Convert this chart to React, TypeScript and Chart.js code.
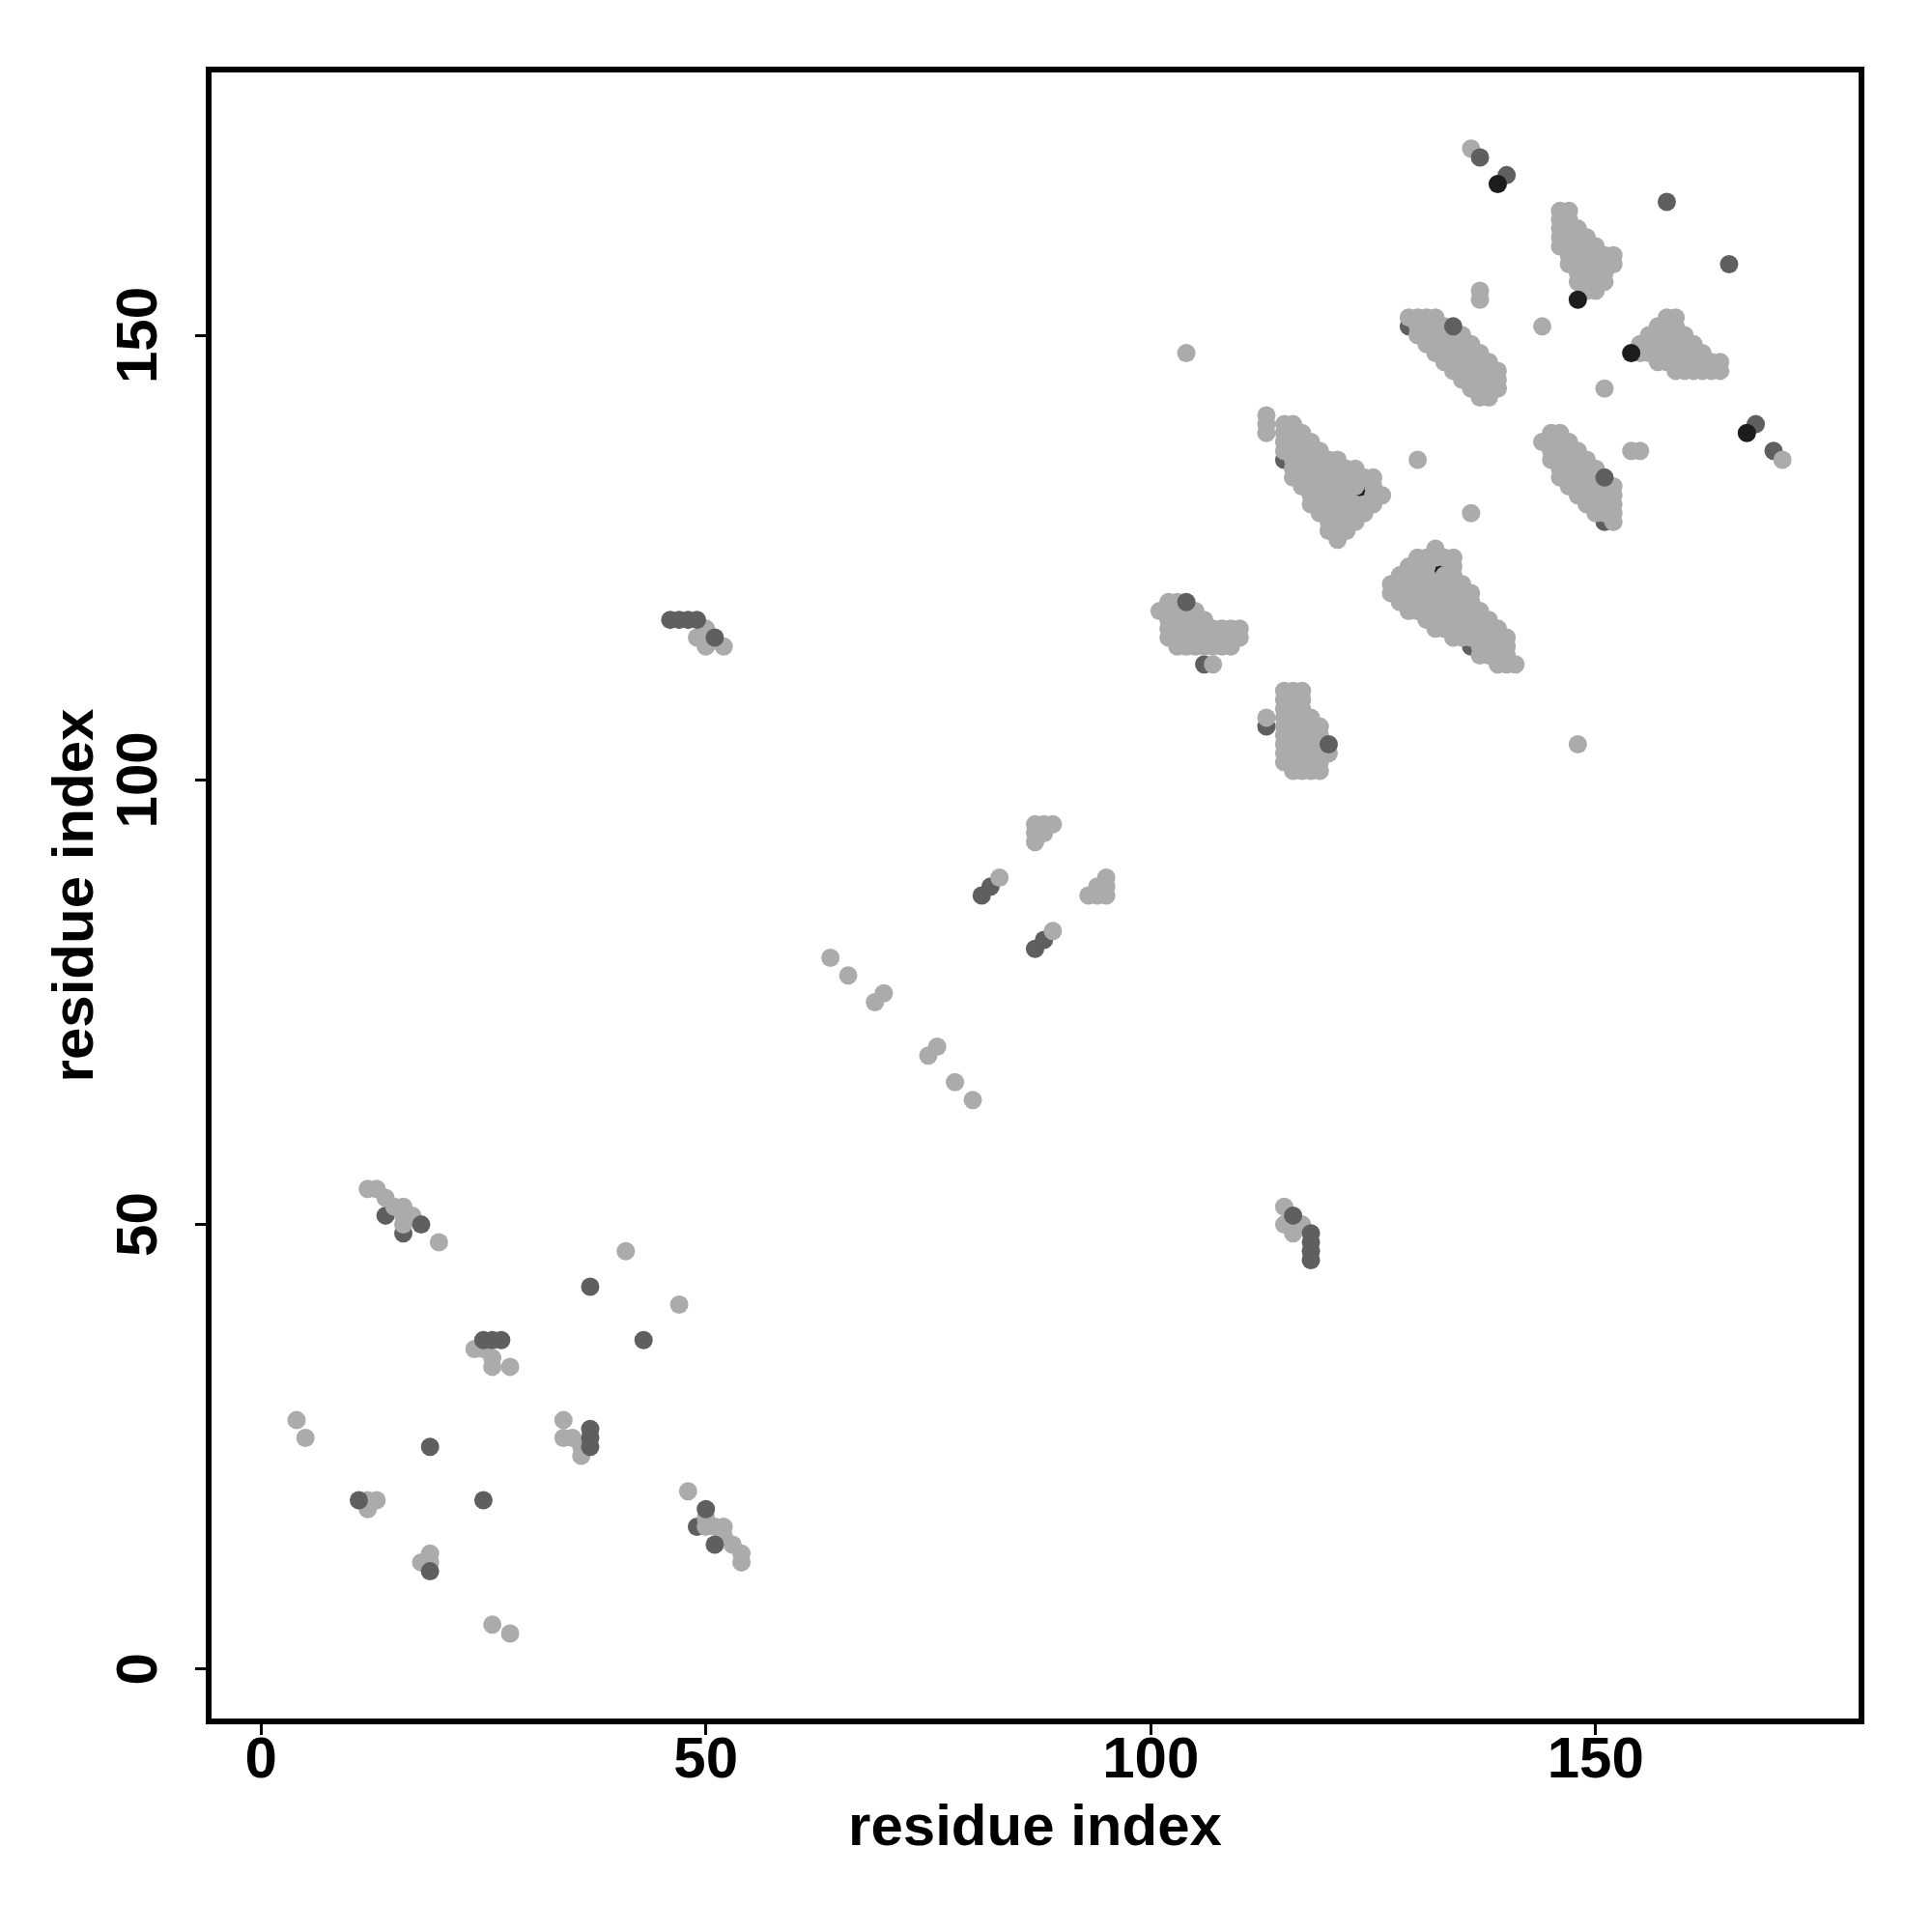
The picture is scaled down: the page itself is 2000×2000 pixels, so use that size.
import React, { useEffect, useRef } from "react";
import { Chart, registerables } from "chart.js";

Chart.register(...registerables);

type P = [number, number];
type Run = [number, number, number]; // [y, xFrom, xTo]

const xTickValues = [0, 50, 100, 150];
const yTickValues = [0, 50, 100, 150];
const axisMin = -5.88;
const axisMax = 179.88;
const xTitle = "residue index";
const yTitle = "residue index";

const lightSingles: P[] = [
  [4, 28], [5, 26], [12, 19], [13, 19], [12, 18],
  [12, 54], [13, 54], [14, 53], [15, 52], [16, 52], [16, 51], [16, 50], [17, 51], [20, 48],
  [18, 12], [19, 13], [19, 12], [26, 5], [28, 4],
  [24, 36], [25, 36], [26, 35], [26, 34], [28, 34],
  [34, 28], [34, 26], [35, 26], [36, 25], [36, 24],
  [41, 47], [47, 41],
  [48, 20], [50, 17], [50, 16], [51, 16], [52, 16], [52, 15], [53, 14], [54, 13], [54, 12],
  [50, 117], [49, 116], [50, 115], [52, 115],
  [64, 80], [66, 78], [69, 75], [70, 76], [75, 69], [76, 70], [78, 66], [80, 64],
  [83, 89], [89, 83],
  [87, 95], [88, 95], [89, 95], [87, 94], [88, 94], [87, 93],
  [93, 87], [94, 87], [95, 87], [94, 88], [95, 88], [95, 89],
  [104, 148], [148, 104], [130, 136], [136, 130],
  [107, 113], [113, 107], [113, 141], [113, 140], [113, 139],
  [115, 52], [115, 50], [117, 50], [116, 49],
  [136, 171], [137, 155], [137, 154], [144, 151], [151, 144],
  [154, 137], [155, 137], [171, 136],
];

const clusterA: Run[] = [
  [120, 102, 103], [119, 101, 105], [118, 102, 106], [117, 102, 110], [116, 102, 110], [115, 103, 109],
];
const clusterB: Run[] = [
  [110, 115, 117], [109, 115, 117], [108, 115, 117], [107, 115, 118], [106, 115, 119],
  [105, 115, 119], [104, 115, 119], [103, 115, 120], [102, 115, 119], [101, 116, 119],
];
const clusterC: Run[] = [
  [140, 115, 116], [139, 115, 117], [138, 115, 118], [137, 115, 119], [136, 116, 121],
  [135, 116, 123], [134, 116, 125], [133, 117, 121], [133, 123, 123], [133, 125, 125],
  [132, 118, 122], [132, 125, 126], [131, 118, 125], [130, 119, 124], [129, 120, 123],
  [128, 120, 122], [127, 121, 121],
];
const clusterD: Run[] = [
  [126, 132, 132], [125, 130, 134], [124, 129, 131], [124, 134, 134], [123, 128, 131],
  [123, 133, 134], [122, 127, 132], [122, 134, 135], [121, 127, 136], [120, 128, 136],
  [119, 129, 137], [118, 131, 138], [117, 132, 139], [116, 134, 140], [115, 137, 140],
  [114, 137, 140], [113, 139, 141],
];
const clusterE: Run[] = [
  [152, 129, 132], [151, 130, 133], [150, 130, 135], [149, 131, 136], [148, 132, 137],
  [147, 133, 138], [146, 134, 139], [145, 135, 139], [144, 136, 139], [143, 137, 138],
];
const clusterF: Run[] = [
  [139, 145, 146], [138, 144, 147], [137, 145, 148], [136, 145, 149], [135, 146, 150],
  [134, 146, 150], [133, 147, 152], [132, 148, 152], [131, 149, 152], [130, 150, 152], [129, 152, 152],
];
const clusterG: Run[] = [
  [164, 146, 147], [163, 146, 147], [162, 146, 148], [161, 146, 149], [160, 146, 150],
  [159, 147, 152], [158, 147, 152], [157, 148, 151], [156, 148, 151], [155, 149, 150],
];
const clusterH: Run[] = [
  [152, 158, 159], [151, 157, 159], [150, 156, 160], [149, 155, 161], [148, 155, 162],
  [147, 157, 164], [146, 159, 164],
];

const darkUnder: P[] = [
  [14, 51], [16, 49], [49, 16], [81, 87], [82, 88], [87, 81], [88, 82],
  [106, 113], [113, 106], [115, 136], [122, 133], [123, 132], [124, 133],
  [133, 124], [132, 123], [133, 122], [136, 115], [129, 151], [151, 129], [170, 137],
];
const blackUnder: P[] = [[124, 132], [132, 124]];
const darkOver: P[] = [
  [18, 50], [25, 37], [26, 37], [27, 37], [37, 27], [37, 26], [37, 25], [50, 18], [51, 14],
  [11, 19], [19, 25], [19, 11], [25, 19], [37, 43], [43, 37],
  [46, 118], [47, 118], [48, 118], [49, 118], [51, 116],
  [104, 120], [120, 104], [134, 151], [151, 134],
  [116, 51], [118, 49], [118, 48], [118, 47], [118, 46],
  [137, 170], [140, 168], [158, 165], [165, 158], [168, 140],
];
const blackOver: P[] = [[139, 167], [148, 154], [154, 148], [167, 139]];

const LIGHT = "#ababab";
const DARK = "#5f5f5f";
const BLACK = "#1c1c1c";
const FONT = "'Liberation Sans', Arial, Helvetica, sans-serif";

function toXY(list: P[]) {
  return list.map(([x, y]) => ({ x, y }));
}
function expand(runs: Run[]) {
  const out: { x: number; y: number }[] = [];
  runs.forEach(([y, a, b]) => {
    for (let x = a; x <= b; x++) out.push({ x, y });
  });
  return out;
}

const framePlugin = {
  id: "frame",
  afterDatasetsDraw(chart: any) {
    const { ctx, chartArea: a } = chart;
    ctx.save();
    ctx.strokeStyle = "#000";
    ctx.lineWidth = 6;
    ctx.strokeRect(a.left, a.top, a.right - a.left, a.bottom - a.top);
    ctx.restore();
  },
};

export default function App() {
  const ref = useRef<HTMLCanvasElement | null>(null);
  useEffect(() => {
    if (!ref.current) return;
    const lightAll = [
      ...toXY(lightSingles),
      ...expand(clusterA), ...expand(clusterB), ...expand(clusterC), ...expand(clusterD),
      ...expand(clusterE), ...expand(clusterF), ...expand(clusterG), ...expand(clusterH),
    ];
    const ds = (data: any[], color: string, order: number) => ({
      data,
      backgroundColor: color,
      borderWidth: 0,
      pointRadius: 9.5,
      pointHoverRadius: 9.5,
      order,
    });
    const tickFont = { family: FONT, size: 60, weight: "bold" as const };
    const chart = new Chart(ref.current, {
      type: "scatter",
      data: {
        datasets: [
          ds(toXY(blackOver), BLACK, 0),
          ds(toXY(darkOver), DARK, 1),
          ds(lightAll, LIGHT, 2),
          ds(toXY(blackUnder), BLACK, 3),
          ds(toXY(darkUnder), DARK, 4),
        ],
      },
      options: {
        responsive: false,
        animation: false,
        devicePixelRatio: 1,
        layout: { padding: { top: 72, right: 73, left: 0, bottom: 0 } },
        plugins: { legend: { display: false }, tooltip: { enabled: false } },
        scales: {
          x: {
            type: "linear",
            min: axisMin,
            max: axisMax,
            afterBuildTicks: (s: any) => {
              s.ticks = xTickValues.map((v) => ({ value: v }));
            },
            afterFit: (s: any) => {
              s.height = 218;
            },
            grid: { display: true, drawOnChartArea: false, drawTicks: true, tickLength: 14, tickWidth: 3, tickColor: "#000" },
            border: { display: false },
            ticks: { font: tickFont, color: "#000", padding: -9, maxRotation: 0, minRotation: 0 },
            title: { display: true, text: xTitle, font: tickFont, color: "#000", padding: { top: 0, bottom: 71 } },
          },
          y: {
            type: "linear",
            min: axisMin,
            max: axisMax,
            afterBuildTicks: (s: any) => {
              s.ticks = yTickValues.map((v) => ({ value: v }));
            },
            afterFit: (s: any) => {
              s.width = 216;
            },
            grid: { display: true, drawOnChartArea: false, drawTicks: true, tickLength: 14, tickWidth: 3, tickColor: "#000" },
            border: { display: false },
            ticks: { font: tickFont, color: "#000", padding: 6, minRotation: 90, maxRotation: 90, crossAlign: "center" },
            title: { display: true, text: yTitle, font: tickFont, color: "#000", padding: { top: 43, bottom: 0 } },
          },
        },
      },
      plugins: [framePlugin],
    });
    return () => chart.destroy();
  }, []);
  return (
    <div style={{ position: "absolute", left: 0, top: 0, width: 2000, height: 2000, background: "#fff" }}>
      <canvas ref={ref} width={2000} height={2000} style={{ display: "block", width: 2000, height: 2000 }} />
    </div>
  );
}
